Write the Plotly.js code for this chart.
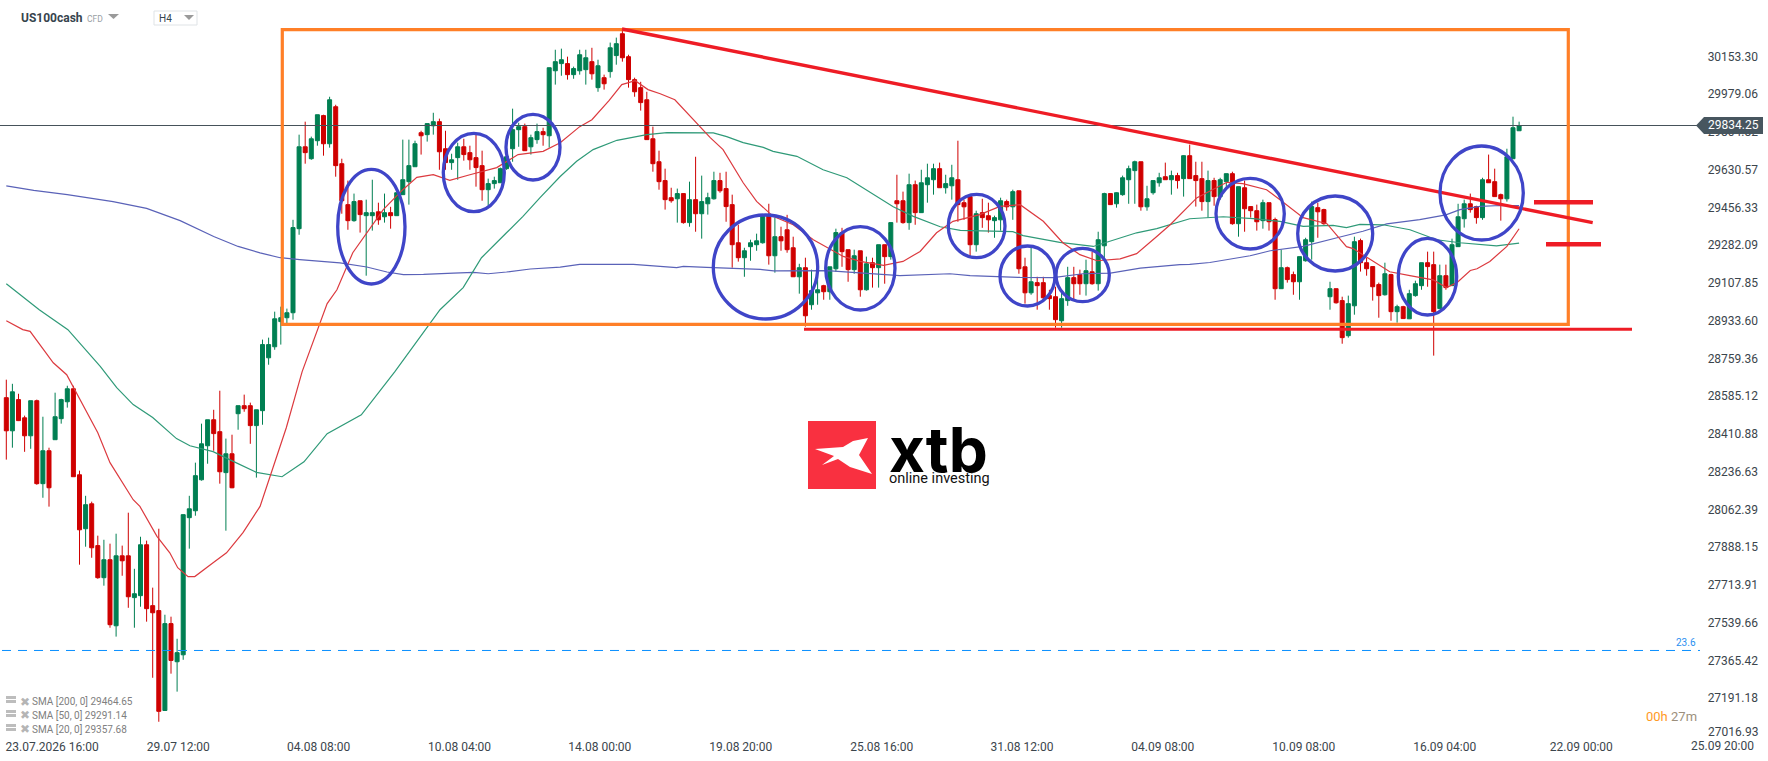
<!DOCTYPE html>
<html><head><meta charset="utf-8">
<script src="https://cdn.plot.ly/plotly-3.0.1.min.js"></script>
<style>html,body{margin:0;padding:0;background:#fff}#c{width:1768px;height:761px}</style>
</head><body><div id="c"></div>
<script>
const opens=[28578,28425,28569,28485,28402,28564,28181,28333,28384,28481,
28559,28619,28222,27973,28088,27895,27747,27830,27525,27848,
27848,27655,27664,27899,27618,27595,27134,27535,27359,27391,
28024,28056,28199,28356,28476,28421,28232,28319,28504,28541,
28541,28449,28518,28762,28813,28929,28947,28970,29358,29736,
29681,29764,29880,29750,29921,29658,29469,29395,29487,29418,
29418,29436,29413,29432,29418,29515,29575,29644,29801,29792,
29833,29852,29727,29663,29686,29736,29709,29686,29649,29538,
29566,29570,29635,29727,29815,29829,29736,29769,29806,29787,
30087,30120,30120,30069,30087,30092,30129,30009,30055,30083,
30157,30258,30152,30046,30009,29953,29773,29667,29580,29501,
29496,29520,29386,29492,29427,29473,29496,29580,29543,29469,
29293,29224,29275,29284,29293,29422,29233,29321,29353,29270,
29136,29178,29007,29062,29095,29067,29173,29340,29261,29169,
29256,29076,29201,29178,29284,29229,29487,29487,29386,29561,
29432,29561,29584,29635,29547,29556,29584,29478,29506,29284,
29432,29418,29395,29399,29483,29459,29533,29182,29062,29109,
29109,29049,29044,28933,29026,29132,29146,29104,29159,29104,
29279,29520,29473,29515,29584,29626,29667,29459,29524,29570,
29598,29584,29603,29589,29695,29603,29589,29483,29580,29506,
29575,29612,29381,29547,29460,29441,29395,29478,29400,29081,
29178,29146,29113,29210,29298,29455,29446,29044,29081,29026,
28864,29002,29303,29201,29183,29100,29053,29146,28975,28998,
28942,29049,29095,29201,29192,28989,29141,29095,29275,29404,
29473,29460,29409,29584,29575,29515,29496,29681,29810];
const highs=[28661,28642,28596,28495,28564,28569,28490,28347,28601,28573,
28633,28633,28241,28125,28098,27941,27922,27904,27950,27895,
28047,27788,27936,27918,27701,27973,27576,27567,27465,28038,
28125,28278,28458,28476,28522,28610,28389,28407,28541,28592,
28555,28522,28846,28855,28975,28998,28989,29399,29792,29852,
29783,29884,29884,29967,29930,29681,29580,29520,29487,29492,
29584,29478,29520,29459,29524,29769,29769,29764,29810,29843,
29893,29866,29810,29704,29755,29773,29741,29792,29718,29589,
29598,29640,29736,29912,29847,29843,29792,29843,29824,30101,
30184,30189,30152,30106,30184,30184,30193,30138,30069,30217,
30240,30281,30161,30055,30036,29990,29829,29718,29635,29547,
29543,29520,29575,29690,29603,29524,29621,29616,29621,29515,
29376,29270,29307,29335,29422,29473,29409,29367,29422,29321,
29196,29224,29169,29146,29099,29182,29358,29362,29261,29261,
29256,29229,29224,29284,29284,29386,29607,29529,29612,29580,
29630,29658,29658,29663,29607,29653,29764,29492,29507,29441,
29496,29478,29418,29501,29492,29538,29533,29224,29270,29136,
29136,29076,29090,29076,29182,29182,29169,29215,29252,29344,
29524,29520,29526,29603,29649,29672,29667,29556,29580,29616,
29663,29626,29616,29697,29746,29667,29667,29626,29593,29593,
29612,29621,29552,29580,29460,29469,29492,29478,29409,29261,
29183,29160,29229,29316,29483,29478,29450,29113,29081,29044,
29049,29321,29312,29224,29183,29109,29201,29150,29007,29002,
29076,29118,29201,29252,29252,29192,29192,29312,29473,29492,
29520,29464,29593,29700,29635,29520,29727,29875,29852];
const lows=[28292,28347,28470,28328,28342,28176,28116,28075,28384,28458,
28532,28213,27807,27890,27839,27742,27710,27516,27475,27756,
27608,27516,27613,27544,27285,27082,27134,27304,27221,27368,
27881,28033,28195,28273,28333,28181,27964,28160,28430,28513,
28365,28209,28453,28730,28799,28823,28915,28938,29330,29658,
29676,29741,29695,29732,29598,29427,29353,29390,29340,29141,
29349,29376,29386,29358,29417,29514,29469,29643,29700,29760,
29792,29630,29630,29630,29584,29672,29630,29552,29487,29464,
29543,29569,29630,29667,29736,29717,29700,29750,29741,29732,
30023,30064,30046,30050,30069,30023,30046,29990,30000,30055,
30115,30129,30009,29967,29903,29769,29621,29538,29446,29478,
29386,29381,29367,29344,29312,29423,29492,29524,29390,29178,
29206,29136,29210,29256,29289,29192,29155,29256,29247,29135,
29058,28906,28984,29007,29030,29030,29159,29182,29113,29150,
29044,29072,29086,29086,29104,29215,29386,29381,29353,29376,
29431,29478,29515,29546,29520,29492,29390,29399,29233,29252,
29362,29340,29316,29349,29441,29399,29150,29012,29053,28984,
29021,28984,28901,28901,29002,29030,29053,29049,29099,29072,
29215,29468,29455,29510,29473,29473,29441,29441,29515,29552,
29583,29515,29543,29506,29588,29460,29441,29409,29464,29492,
29538,29376,29321,29344,29409,29349,29358,29349,29030,29080,
29109,29053,29030,29206,29215,29316,29376,28984,29012,28827,
28855,28961,29160,29141,29026,28947,29049,28933,28924,28942,
28941,29044,29076,29090,28772,28988,29076,29094,29274,29363,
29432,29381,29399,29569,29505,29395,29483,29680,29809];
const closes=[28425,28605,28472,28402,28564,28181,28333,28162,28490,28569,
28619,28213,27968,28084,27885,27747,27830,27530,27848,27825,
27659,27673,27899,27604,27585,27130,27535,27365,27401,28038,
28065,28218,28365,28476,28412,28236,28319,28162,28541,28527,
28449,28522,28823,28823,28942,28947,28970,29363,29736,29709,
29773,29884,29750,29953,29649,29487,29395,29483,29423,29432,
29432,29399,29432,29418,29524,29584,29649,29750,29787,29843,
29852,29713,29663,29676,29736,29700,29676,29640,29538,29566,
29580,29635,29690,29815,29829,29718,29778,29806,29792,30101,
30129,30138,30069,30097,30161,30147,30073,30110,30027,30193,
30212,30147,30046,29990,29940,29769,29658,29575,29492,29487,
29520,29386,29492,29427,29483,29501,29580,29533,29460,29284,
29224,29256,29293,29302,29422,29233,29321,29302,29261,29136,
29178,28956,29072,29076,29067,29182,29340,29252,29169,29233,
29076,29196,29178,29284,29229,29386,29473,29386,29561,29432,
29570,29593,29635,29547,29566,29593,29469,29459,29284,29427,
29409,29399,29409,29487,29459,29529,29173,29062,29113,29095,
29039,29035,28938,29035,29132,29104,29104,29164,29104,29307,
29520,29469,29524,29593,29635,29667,29459,29496,29580,29593,
29584,29603,29580,29695,29589,29580,29483,29580,29506,29584,
29612,29381,29552,29450,29441,29390,29478,29390,29081,29178,
29123,29113,29229,29307,29460,29436,29381,29081,29016,28855,
29012,29298,29201,29173,29090,29049,29150,28975,28998,28943,
29058,29104,29201,29183,28975,29141,29086,29284,29413,29473,
29446,29409,29584,29570,29506,29496,29690,29824,29834.25];

const sma20x=[0,2.7,3.9,7.7,9.9,10.9,15,17,20.8,21.9,24.7,26.8,28.1,29.8,30.9,33.9,36.1,38.8,41.6,45.9,48.5,52.6,54.2,56.8,59.1,61.8,65,67.3,70,72.7,76,80.4,83.9,88,90.8,94,96,98.8,100.9,103.1,105.2,107.2,109.6,113.2,115.4,117.5,120.8,123,125.7,129,132.3,137.2,140,143.8,147,149.8,152.5,155.2,159.6,162.9,166.2,170,173.2,176,178.8,182.6,185.3,188.6,190.8,195.2,200.1,202.7,206.6,208.8,212.6,216.5,218.1,219.7,220.8,224,226.8,230.1,233.9,236.1,237.8,240,241.1,243.2,246,248];
const sma20y=[28933,28892,28884,28739,28684,28630,28416,28278,28107,28076,27938,27862,27793,27752,27752,27816,27862,27955,28076,28439,28698,29012,29076,29247,29339,29446,29538,29595,29607,29581,29607,29640,29700,29715,29755,29829,29861,29949,30023,30041,30000,29981,29953,29847,29778,29723,29570,29484,29415,29376,29307,29230,29207,29189,29207,29253,29339,29392,29423,29461,29469,29392,29293,29238,29210,29219,29243,29322,29376,29501,29572,29566,29538,29492,29409,29381,29330,29275,29266,29207,29159,29141,29122,29086,29109,29165,29173,29207,29276,29357.68];
const sma50x=[0,5.4,10.1,15.4,18.1,20.8,24,27.9,30.1,33.9,37.2,41,45.2,48.8,52.6,58.2,63.7,71.1,74.9,77.9,82,84.7,87.5,90.8,93.5,96.2,100.1,102.7,105,108.3,112.4,115.9,118.1,120.8,124.1,125.7,129.6,133.9,137.8,141,145.4,148.7,153.1,156.4,165,166.7,172.7,178.2,180.4,185.3,188.6,190.8,194,199.5,204.4,208.8,212.6,217.5,219.7,221.9,225.7,230.1,234.5,238.3,244.3,248];
const sma50y=[29104,28984,28892,28722,28624,28546,28486,28389,28356,28329,28284,28233,28213,28282,28412,28499,28698,28984,29086,29224,29339,29415,29501,29599,29669,29723,29766,29778,29792,29801,29802,29800,29783,29755,29733,29715,29692,29630,29593,29538,29459,29415,29367,29350,29344,29326,29295,29276,29295,29339,29358,29376,29404,29413,29404,29392,29369,29373,29363,29378,29376,29353,29307,29293,29279,29291.14];
const sma200x=[0,4.5,10,17.5,23,28.5,34,38,41.6,44.9,48.1,51.4,54.7,59.1,62.4,65.1,68.4,73.3,76.6,79,82,85.9,90.8,94,102.8,109.9,111,114.8,123.6,125.8,134.5,146.5,153,154.7,158,166.2,171.6,176.5,181,185.9,192.4,194,197.3,203.9,207.2,212.6,218,222.4,226.3,231.7,236,238.3,241.6,244.9,248];
const sma200y=[29556,29535,29515,29483,29452,29395,29322,29276,29246,29224,29215,29209,29200,29181,29158,29146,29147,29153,29156,29150,29158,29172,29181,29193,29193,29178,29184,29179,29170,29163,29164,29141,29146,29150,29141,29133,29132,29150,29153,29176,29192,29193,29202,29233,29256,29276,29315,29346,29380,29400,29422,29446,29461,29465,29464.65];

const priceTicks=[30153.30,29979.06,29804.82,29630.57,29456.33,29282.09,29107.85,28933.60,28759.36,28585.12,28410.88,28236.63,28062.39,27888.15,27713.91,27539.66,27365.42,27191.18,27016.93];
const timeTicks=[7.5,28.2,51.2,74.3,97.3,120.4,143.5,166.5,189.6,212.7,235.8,258.2,281.3];
const timeLabels=["23.07.2026 16:00","29.07 12:00","04.08 08:00","10.08 04:00","14.08 00:00","19.08 20:00","25.08 16:00","31.08 12:00","04.09 08:00","10.09 08:00","16.09 04:00","22.09 00:00","25.09 20:00"];
const lastPrice=29834.25, fibLevel=27411;
const smaLegend=["SMA [200, 0] 29464.65","SMA [50, 0] 29291.14","SMA [20, 0] 29357.68"];

const W=1768,H=738;
const X=p=>(p-6.3)/6.1, Y=p=>30413.6-4.616*p;
const pathOf=pts=>pts.map((q,i)=>(i?'L':'M')+X(q[0])+' '+Y(q[1])).join(' ')+' Z';
const shapes=[];
const BLUE='#3f45c8',RED='#ee1c25',ORANGE='#ff7f27';
shapes.push({type:'line',x0:X(0),x1:X(1697),y0:lastPrice,y1:lastPrice,line:{color:'#46525a',width:1}});
shapes.push({type:'line',x0:X(2),x1:X(1700),y0:fibLevel,y1:fibLevel,line:{color:'#0a8fff',width:1,dash:'9px,7px'}});
shapes.push({type:'rect',x0:X(282.3),x1:X(1568.3),y0:Y(29.7),y1:Y(324.3),line:{color:ORANGE,width:3.2}});
[[622,29,1592.7,222.7,3.4],[804,329.3,1632,329.3,3],[1534,202.3,1593,202.3,4.5],[1546,244.3,1601,244.3,4.5]].forEach(a=>
 shapes.push({type:'line',x0:X(a[0]),y0:Y(a[1]),x1:X(a[2]),y1:Y(a[3]),line:{color:RED,width:a[4]}}));
[[337.7,405,169.3,284],[443.3,504.3,133.3,211.7],[506,560,114.3,180],[713.3,817.7,215,319],[825.7,895,226.7,310],[948.3,1005,194.3,257.7],[1000,1055,246,306],[1056,1109.3,248.3,301.7],[1216,1284.3,178.3,249],[1297.7,1372.7,196,271],[1398.3,1456.7,238.3,315],[1440,1523.3,146,240]].forEach(e=>
 shapes.push({type:'circle',x0:X(e[0]),x1:X(e[1]),y0:Y(e[2]),y1:Y(e[3]),line:{color:BLUE,width:3.3}}));
shapes.push({type:'rect',x0:X(808),x1:X(876),y0:Y(421),y1:Y(489),fillcolor:'#f93040',line:{width:0}});
shapes.push({type:'path',path:pathOf([[815,449],[843,447],[853,441],[868,438],[859,455],[872,474],[850,467],[838,459],[822,465],[834,456]]),fillcolor:'#fff',line:{width:0}});
shapes.push({type:'path',path:pathOf([[1696,125.5],[1704,117],[1763,117],[1763,134],[1704,134]]),fillcolor:'#47565f',line:{width:0}});
shapes.push({type:'rect',x0:X(154),x1:X(197),y0:Y(11),y1:Y(25),fillcolor:'#fff',line:{color:'#dfe3e6',width:1}});
[[108,14,119,14,113.5,19],[184,15,194,15,189,20]].forEach(t=>
 shapes.push({type:'path',path:pathOf([[t[0],t[1]],[t[2],t[3]],[t[4],t[5]]]),fillcolor:'#9a9a9a',line:{width:0}}));
[696,710,724].forEach(t=>{
 shapes.push({type:'rect',x0:X(6),x1:X(16),y0:Y(t),y1:Y(t+7),fillcolor:'#bdbdbd',line:{width:0}});
 shapes.push({type:'line',x0:X(6),x1:X(16),y0:Y(t+3.5),y1:Y(t+3.5),line:{color:'#fff',width:1}});
});

const ann=(px,py,text,size,color,anchor,extra)=>Object.assign({xref:'paper',yref:'paper',x:px/W,y:1-py/H,text:text,showarrow:false,xanchor:anchor||'left',yanchor:'middle',borderpad:0,font:{family:'Roboto',size:size,color:color}},extra||{});
const axisGrey='#3b454c';
const annotations=[
 ann(20,18,'<b>US100cash</b>',12,'#36444d'),
 ann(86,19,'CFD',8.5,'#9aa0a4'),
 ann(158,19,'H4',10,'#36444d'),
 ann(1707,125.5,lastPrice.toFixed(2),12,'#ffffff'),
 ann(1686,642,'23.6',10,'#2a8ff0','center'),
 ann(1645,716,'<span style="color:#ff9a1f">00h</span> <span style="color:#9c8f7c">27m</span>',13,'#888'),
 ann(888,449,'<b>xtb</b>',62,'#000000','left',{font:{family:'Inter',size:62,color:'#000'}}),
 ann(888,478,'online investing',14.5,'#111111'),
 ann(1758.5,732,priceTicks[18].toFixed(2),12,axisGrey,'right'),
 ann(1722,746,timeLabels[12],12,axisGrey,'center')
];
smaLegend.forEach((t,k)=>{
 const py=701.7+13.7*k;
 annotations.push(ann(19,py,'✖',12,'#b5b5b5','left',{font:{family:'DejaVu Sans',size:12,color:'#b5b5b5'}}));
 annotations.push(ann(31,py,t,10,'#808080'));
});

const traces=[
 {type:'candlestick',x:opens.map((_,i)=>i),open:opens,high:highs,low:lows,close:closes,whiskerwidth:0,hoverinfo:'skip',
  increasing:{line:{color:'#007f52',width:1},fillcolor:'#007f52'},decreasing:{line:{color:'#cf0000',width:1},fillcolor:'#cf0000'},showlegend:false},
 {type:'scatter',mode:'lines',x:sma200x,y:sma200y,line:{color:'#5a62b8',width:1.2},hoverinfo:'skip',showlegend:false},
 {type:'scatter',mode:'lines',x:sma50x,y:sma50y,line:{color:'#2f9a78',width:1.2},hoverinfo:'skip',showlegend:false},
 {type:'scatter',mode:'lines',x:sma20x,y:sma20y,line:{color:'#dc3a3f',width:1.2},hoverinfo:'skip',showlegend:false}
];
const layout={
 width:W,height:761,margin:{l:0,r:0,t:0,b:23,pad:0},paper_bgcolor:'#fff',plot_bgcolor:'#fff',showlegend:false,
 boxgap:0.18,boxgroupgap:0.2,
 font:{family:'Roboto',size:12,color:axisGrey},
 xaxis:{type:'linear',range:[X(0),X(W)],rangeslider:{visible:false},showgrid:false,zeroline:false,showline:false,ticks:'',tickmode:'array',tickvals:timeTicks.slice(0,12),ticktext:timeLabels.slice(0,12),tickfont:{family:'Roboto',size:12,color:axisGrey}},
 yaxis:{type:'linear',range:[Y(H),Y(0)],side:'right',showgrid:false,zeroline:false,showline:false,ticks:'',ticklabelposition:'inside',ticklabelstandoff:7,tickmode:'array',tickvals:priceTicks.slice(0,18),ticktext:priceTicks.slice(0,18).map(v=>v.toFixed(2)),tickfont:{family:'Roboto',size:12,color:axisGrey}},
 shapes:shapes,annotations:annotations
};
Plotly.newPlot('c',traces,layout,{displayModeBar:false,staticPlot:true});
</script></body></html>
